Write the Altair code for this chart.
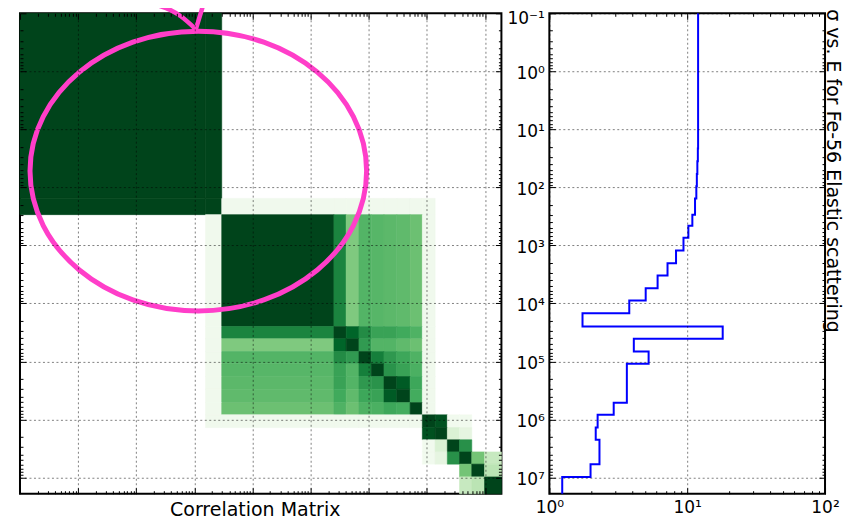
import altair as alt
import pandas as pd

E_MAX = 1.905e7

# ---------------- data ----------------
# correlation-matrix energy group boundaries (eV)
group_edges = [1e-1, 1.55e2, 2.95e2, 2.51e4, 4.07e4, 6.76e4, 1.10e5, 1.82e5,
               3.02e5, 5.13e5, 8.32e5, 1.38e6, 2.24e6, 3.63e6, 5.89e6, 9.77e6, 1.905e7]

corr_rows = [
    [1, 1, 0, 0, 0, 0, 0, 0, 0, 0, 0, 0, 0, 0, 0, 0],
    [1, 1, .05, .05, .05, .05, .05, .05, .05, .05, .05, 0, 0, 0, 0, 0],
    [0, .05, 1, .78, .47, .58, .57, .56, .55, .52, .05, 0, 0, 0, 0, 0],
    [0, .05, .78, 1, .90, .75, .66, .66, .63, .59, .05, 0, 0, 0, 0, 0],
    [0, .05, .47, .90, 1, .69, .58, .58, .55, .52, .05, 0, 0, 0, 0, 0],
    [0, .05, .58, .75, .69, 1, .80, .70, .64, .59, .05, 0, 0, 0, 0, 0],
    [0, .05, .57, .66, .58, .80, 1, .72, .66, .60, .05, 0, 0, 0, 0, 0],
    [0, .05, .56, .66, .58, .70, .72, 1, .93, .64, .05, 0, 0, 0, 0, 0],
    [0, .05, .55, .63, .55, .64, .66, .93, 1, .62, .05, 0, 0, 0, 0, 0],
    [0, .05, .52, .59, .52, .59, .60, .64, .62, 1, .05, 0, 0, 0, 0, 0],
    [0, .05, .05, .05, .05, .05, .05, .05, .05, .05, 1, .96, .04, .04, 0, 0],
    [0, 0, 0, 0, 0, 0, 0, 0, 0, 0, .96, 1, .17, .12, 0, 0],
    [0, 0, 0, 0, 0, 0, 0, 0, 0, 0, .04, .17, 1, .73, 0, 0],
    [0, 0, 0, 0, 0, 0, 0, 0, 0, 0, .04, .12, .73, 1, .50, .25],
    [0, 0, 0, 0, 0, 0, 0, 0, 0, 0, 0, 0, 0, .50, 1, .29],
    [0, 0, 0, 0, 0, 0, 0, 0, 0, 0, 0, 0, 0, .25, .29, 1],
]

# sigma vs E step plot (group boundaries in eV, sigma per group)
sigma_group_edges = [1e-1, 2.14e1, 3.55e1, 5.89e1, 9.55e1, 1.55e2, 2.95e2, 4.57e2,
                     7.41e2, 1.23e3, 2.04e3, 3.31e3, 5.50e3, 8.91e3, 1.48e4, 2.51e4,
                     4.07e4, 6.76e4, 1.10e5, 5.13e5, 8.32e5, 1.38e6, 2.24e6, 5.89e6,
                     9.77e6, 1.905e7]
sigma_values = [12.0, 11.95, 11.85, 11.75, 11.65, 11.4, 10.9, 10.2, 9.4, 8.3, 7.2,
                6.1, 5.0, 3.8, 1.74, 18.1, 4.1, 5.25, 3.65, 2.93, 2.24, 2.17, 2.31,
                1.99, 1.24]

# pink annotation (in matrix energy coordinates)
ellipse_center_E = [116.7]
ellipse_center_row = [52.4]
arrow_shaft_E = [8.74, 26.5, 58.4, 105.7]
arrow_shaft_row = [0.0622, 0.0758, 0.1126, 0.1886]
arrow_head_E = [139.4, 105.7]
arrow_head_row = [0.0758, 0.1886]

# ---------------- styling ----------------
FONT = "DejaVu Sans"
PINK = "#ff3ec9"
GREENS = ["#f7fcf5", "#e5f5e0", "#c7e9c0", "#a1d99b", "#74c476",
          "#41ab5d", "#238b45", "#006d2c", "#00441b"]
ELLIPSE_PATH = ("M 1 0 C 1 0.459 0.5523 0.831 0 0.831 C -0.5523 0.831 -1 0.459 -1 0 "
                "C -1 -0.459 -0.5523 -0.831 0 -0.831 C 0.5523 -0.831 1 -0.459 1 0 Z")
ELLIPSE_SIZE = 337 ** 2

decades_all = [10.0 ** n for n in range(-1, 8)]
decades_in = [10.0 ** n for n in range(0, 8)]
minor_all = [k * 10.0 ** n for n in range(-1, 8) for k in range(2, 10) if k * 10.0 ** n < E_MAX]
x_major_s = [1.0, 10.0, 100.0]
x_minor_s = [k * 10.0 ** n for n in range(0, 2) for k in range(2, 10)]

# ---------------- tables ----------------
cells = []
for i, row in enumerate(corr_rows):
    for j, r in enumerate(row):
        if r > 0:
            cells.append({"e_lo": group_edges[j], "e_hi": group_edges[j + 1],
                          "r_lo": group_edges[i], "r_hi": group_edges[i + 1], "r": r})
cells_df = pd.DataFrame(cells)

line_pts = []
for g, s in enumerate(sigma_values):
    line_pts.append({"k": 2 * g, "sigma": s, "E": sigma_group_edges[g]})
    line_pts.append({"k": 2 * g + 1, "sigma": s, "E": sigma_group_edges[g + 1]})
line_df = pd.DataFrame(line_pts)

ell_df = pd.DataFrame({"E": ellipse_center_E, "row": ellipse_center_row})
arrow_df = pd.DataFrame({
    "E": arrow_shaft_E + arrow_head_E,
    "row": arrow_shaft_row + arrow_head_row,
    "part": ["shaft"] * len(arrow_shaft_E) + ["head"] * len(arrow_head_E),
    "k": list(range(len(arrow_shaft_E) + len(arrow_head_E))),
})


# ---------------- axes helpers ----------------
def grid_axis(orient, values, **kw):
    d = dict(orient=orient, values=values, domain=False, ticks=False, tickSize=0,
             labels=False, title=None, zindex=1, grid=True, gridColor="black",
             gridOpacity=0.5, gridDash=[2, 2.5], gridWidth=1, minExtent=0)
    d.update(kw)
    return alt.Axis(**d)


def tick_axis(orient, values, size):
    return alt.Axis(orient=orient, values=values, grid=False, domain=False, labels=False,
                    title=None, ticks=True, tickSize=size, offset=-size,
                    tickColor="black", tickWidth=1, zindex=2, minExtent=0)


def tick_layers(df, xf, yf, xs, ys, xmaj, xmin, ymaj, ymin):
    out = []
    for xo, yo in (("bottom", "left"), ("top", "right")):
        for xv, yv, size in ((xmaj, ymaj, 6), (xmin, ymin, 3)):
            out.append(alt.Chart(df).mark_point(opacity=0).encode(
                x=alt.X(f"{xf}:Q", scale=xs, axis=tick_axis(xo, xv, size)),
                y=alt.Y(f"{yf}:Q", scale=ys, axis=tick_axis(yo, yv, size))))
    return out


LABELS = dict(labels=True, labelFont=FONT, labelFontSize=17, labelColor="black",
              labelFlush=False, labelOverlap=False)

# ---------------- left: correlation matrix ----------------
xs_m = alt.Scale(type="log", domain=[0.1, E_MAX], nice=False)
ys_m = alt.Scale(type="log", domain=[0.1, E_MAX], nice=False, reverse=True)
cscale = alt.Scale(domain=[0, .125, .25, .375, .5, .625, .75, .875, 1],
                   range=GREENS, interpolate="rgb")

cells_layer = alt.Chart(cells_df).mark_rect(strokeWidth=0.6).encode(
    x=alt.X("e_lo:Q", scale=xs_m,
            axis=grid_axis("bottom", decades_in, title="Correlation Matrix",
                           titleFont=FONT, titleFontSize=19, titleFontWeight="normal",
                           titleColor="black", titlePadding=7, titleX=235)),
    x2="e_hi:Q",
    y=alt.Y("r_lo:Q", scale=ys_m, axis=grid_axis("left", decades_in)),
    y2="r_hi:Q",
    color=alt.Color("r:Q", scale=cscale, legend=None),
    stroke=alt.Stroke("r:Q", scale=cscale, legend=None),
)

ellipse = alt.Chart(ell_df).mark_point(
    shape=ELLIPSE_PATH, size=ELLIPSE_SIZE, filled=False, strokeWidth=5,
    color=PINK, opacity=1, clip=False
).encode(
    x=alt.X("E:Q", scale=xs_m, axis=None),
    y=alt.Y("row:Q", scale=ys_m, axis=None),
)

arrow = alt.Chart(arrow_df).mark_line(
    color=PINK, strokeWidth=4.5, interpolate="natural", clip=False, strokeCap="round"
).encode(
    x=alt.X("E:Q", scale=xs_m, axis=None),
    y=alt.Y("row:Q", scale=ys_m, axis=None),
    detail="part:N",
    order="k:Q",
)

left = alt.layer(
    cells_layer,
    *tick_layers(cells_df, "e_lo", "r_lo", xs_m, ys_m,
                 decades_all, minor_all, decades_all, minor_all),
    ellipse, arrow,
).resolve_axis(x="independent", y="independent").properties(width=482, height=481)

# ---------------- right: sigma vs E ----------------
xs_s = alt.Scale(type="log", domain=[1, 100], nice=False)
ys_s = alt.Scale(type="log", domain=[0.1, E_MAX], nice=False, reverse=True)

X_LABEL_EXPR = "['10\u2070','10\u00b9','10\u00b2'][round(log(datum.value)/LN10)]"
Y_LABEL_EXPR = ("['10\u207b\u00b9','10\u2070','10\u00b9','10\u00b2','10\u00b3','10\u2074',"
                "'10\u2075','10\u2076','10\u2077'][round(log(datum.value)/LN10)+1]")

step = alt.Chart(line_df).mark_line(color="#0000ff", strokeWidth=2).encode(
    x=alt.X("sigma:Q", scale=xs_s,
            axis=grid_axis("bottom", x_major_s, labelExpr=X_LABEL_EXPR,
                           labelPadding=6, **LABELS)),
    y=alt.Y("E:Q", scale=ys_s,
            axis=grid_axis("left", decades_all, labelExpr=Y_LABEL_EXPR,
                           labelPadding=5,
                           labelOffset={"condition": {"test": "datum.value < 0.5", "value": 5},
                                        "value": 2},
                           **LABELS)),
    order="k:Q",
)

right = alt.layer(
    step,
    *tick_layers(line_df, "sigma", "E", xs_s, ys_s,
                 x_major_s, x_minor_s, decades_all, minor_all),
).resolve_axis(x="independent", y="independent").properties(
    width=276, height=481,
    title=alt.TitleParams(text="\u03c3 vs. E for Fe-56 Elastic scattering",
                          orient="right", anchor="start", font=FONT, fontSize=19,
                          fontWeight="normal", color="black", offset=-16),
)

chart = alt.hconcat(left, right, spacing=48, bounds="flush").properties(
    padding={"left": 8, "top": -17, "right": 0, "bottom": 0}
).configure_view(stroke="black", strokeWidth=2)

chart.save("out.html", embed_options={"renderer": "svg", "actions": False})
